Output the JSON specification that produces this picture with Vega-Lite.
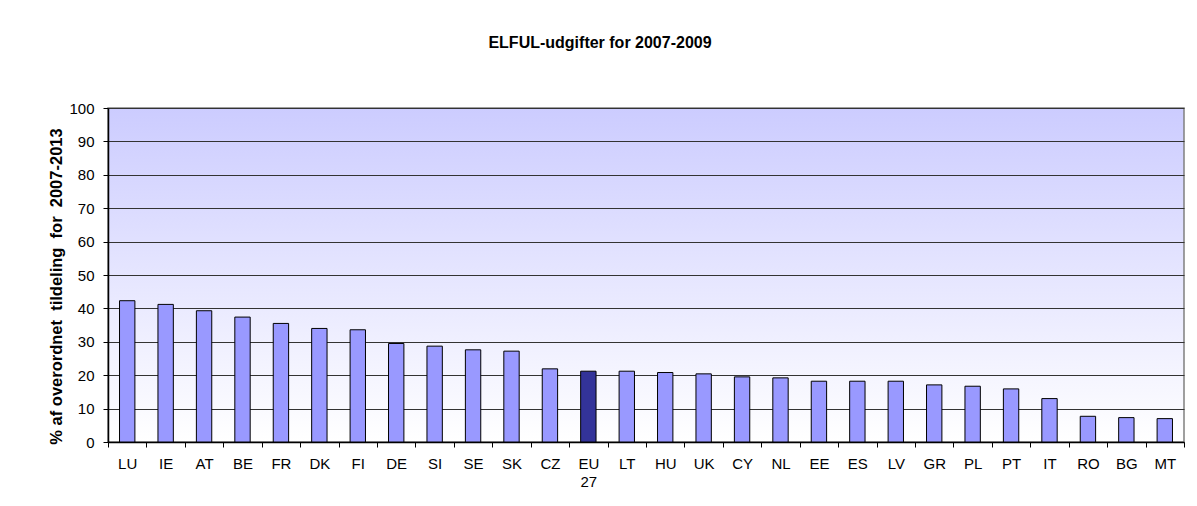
{
  "$schema": "https://vega.github.io/schema/vega-lite/v6.json",
  "width": 1076,
  "height": 334,
  "autosize": {"type": "none"},
  "padding": {"left": 108, "top": 108, "right": 13, "bottom": 64},
  "background": "white",
  "title": {
    "text": "ELFUL-udgifter for 2007-2009",
    "font": "Liberation Sans",
    "fontSize": 16,
    "fontWeight": "bold",
    "color": "black",
    "anchor": "middle",
    "dx": -46,
    "offset": 50
  },
  "data": {
    "values": [
      {"country": "LU", "value": 42.3},
      {"country": "IE", "value": 41.2},
      {"country": "AT", "value": 39.3},
      {"country": "BE", "value": 37.4},
      {"country": "FR", "value": 35.5},
      {"country": "DK", "value": 34.0},
      {"country": "FI", "value": 33.6},
      {"country": "DE", "value": 29.5},
      {"country": "SI", "value": 28.7},
      {"country": "SE", "value": 27.6},
      {"country": "SK", "value": 27.2},
      {"country": "CZ", "value": 21.9},
      {"country": "EU 27", "value": 21.2},
      {"country": "LT", "value": 21.2},
      {"country": "HU", "value": 20.8},
      {"country": "UK", "value": 20.4},
      {"country": "CY", "value": 19.5},
      {"country": "NL", "value": 19.2},
      {"country": "EE", "value": 18.2},
      {"country": "ES", "value": 18.2},
      {"country": "LV", "value": 18.2},
      {"country": "GR", "value": 17.1},
      {"country": "PL", "value": 16.7},
      {"country": "PT", "value": 15.9},
      {"country": "IT", "value": 13.0},
      {"country": "RO", "value": 7.7},
      {"country": "BG", "value": 7.3},
      {"country": "MT", "value": 7.0}
    ]
  },
  "mark": {"type": "bar", "width": {"band": 0.4}, "stroke": "black", "strokeWidth": 1},
  "encoding": {
    "x": {
      "field": "country",
      "type": "nominal",
      "sort": null,
      "scale": {"paddingInner": 0, "paddingOuter": 0},
      "axis": {
        "title": null,
        "labelAngle": 0,
        "labelFont": "Liberation Sans",
        "labelFontSize": 15,
        "labelColor": "black",
        "labelPadding": 9,
        "labelExpr": "datum.label == 'EU 27' ? ['EU', '27'] : datum.label",
        "labelLineHeight": 18,
        "tickBand": "extent",
        "tickSize": 5,
        "tickColor": "black",
        "domainColor": "black",
        "domainWidth": 1.5,
        "grid": false
      }
    },
    "y": {
      "field": "value",
      "type": "quantitative",
      "scale": {"domain": [0, 100], "nice": false},
      "axis": {
        "title": "% af overordnet\u00a0\u00a0tildeling\u00a0\u00a0for\u00a0\u00a02007-2013",
        "titleFont": "Liberation Sans",
        "titleFontSize": 16.5,
        "titleFontWeight": "bold",
        "titleColor": "black",
        "titlePadding": 4,
        "titleY": 178,
        "values": [0, 10, 20, 30, 40, 50, 60, 70, 80, 90, 100],
        "labelFont": "Liberation Sans",
        "labelFontSize": 15,
        "labelColor": "black",
        "labelPadding": 9,
        "tickSize": 5,
        "tickColor": "black",
        "domainColor": "black",
        "domainWidth": 1.5,
        "grid": true,
        "gridColor": "#333333",
        "gridWidth": 1.2,
        "gridOpacity": 1
      }
    },
    "color": {
      "condition": {"test": "datum.country == 'EU 27'", "value": "#333399"},
      "value": "#9999ff"
    }
  },
  "config": {
    "view": {
      "stroke": "#808080",
      "strokeWidth": 1.5,
      "fill": {
        "gradient": "linear",
        "x1": 0, "y1": 0, "x2": 0, "y2": 1,
        "stops": [
          {"offset": 0, "color": "#ccccff"},
          {"offset": 1, "color": "#ffffff"}
        ]
      }
    }
  }
}
